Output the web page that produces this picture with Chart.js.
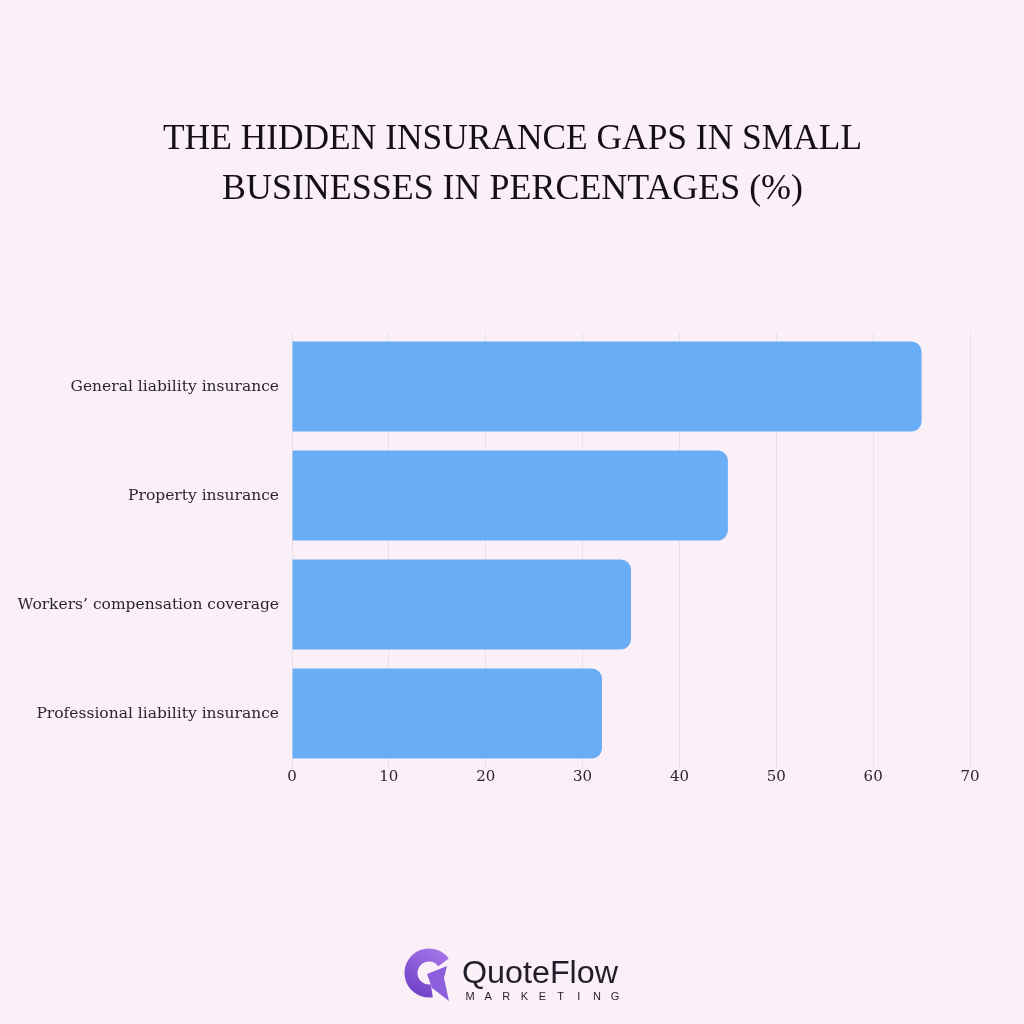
<!DOCTYPE html>
<html><head><meta charset="utf-8">
<script src="https://cdn.jsdelivr.net/npm/chart.js@4"></script>
<style>html,body{margin:0;padding:0;background:#fcf0f8;}#wrap{width:1024px;height:1024px;position:relative;}</style>
</head><body><div id="wrap"><canvas id="c" width="1024" height="1024"></canvas></div>
<script>
const categories = ["General liability insurance","Property insurance","Workers\u2019 compensation coverage","Professional liability insurance"];
const values = [65, 45, 35, 32];
const xTicks = [0,10,20,30,40,50,60,70];
const titleLines = ["THE HIDDEN INSURANCE GAPS IN SMALL","BUSINESSES IN PERCENTAGES (%)"];

const bgPlugin = {
  id:'bg',
  beforeDraw(chart){const ctx=chart.ctx;ctx.save();ctx.fillStyle='#fcf0f8';ctx.fillRect(0,0,chart.width,chart.height);ctx.restore();}
};
const decor = {
  id:'decor',
  afterDraw(chart){
    const ctx=chart.ctx;ctx.save();
    ctx.fillStyle='#151015';ctx.textAlign='center';ctx.textBaseline='alphabetic';
    ctx.font='36px "Liberation Serif"';
    const widths=[699,581], ys=[149,199];
    titleLines.forEach((t,i)=>{
      const w=ctx.measureText(t).width; const s=widths[i]/w;
      ctx.save();ctx.translate(512.5,ys[i]);ctx.scale(s,1);ctx.fillText(t,0,0);ctx.restore();
    });
    // logo icon
    const g=ctx.createLinearGradient(440,948,410,998);
    g.addColorStop(0,'#a777ea');g.addColorStop(1,'#6a3cc4');
    ctx.strokeStyle=g;ctx.lineWidth=13;ctx.lineCap='butt';
    ctx.beginPath();ctx.arc(429,973,18,0.45*Math.PI,1.8*Math.PI,false);ctx.stroke();
    ctx.fillStyle='#8e5fdc';
    ctx.beginPath();ctx.moveTo(427,974);ctx.lineTo(447,966);ctx.lineTo(444,978);ctx.lineTo(449,1001);ctx.lineTo(432,988);ctx.closePath();ctx.fill();
    // logo text
    ctx.fillStyle='#221d2a';ctx.textAlign='left';
    ctx.font='31px "Liberation Sans"';
    const qt='QuoteFlow';const qw=ctx.measureText(qt).width;
    ctx.save();ctx.translate(462,983);ctx.scale(156/qw,1);ctx.fillText(qt,0,0);ctx.restore();
    ctx.font='11px "Liberation Sans"';
    const m='MARKETING';const step=(615-470)/(m.length-1);
    ctx.textAlign='center';
    for(let i=0;i<m.length;i++){ctx.fillText(m[i],470+i*step,1000);}
    ctx.restore();
  }
};

new Chart(document.getElementById('c'),{
  type:'bar',
  data:{labels:categories,datasets:[{data:values,backgroundColor:'#68adf6',borderRadius:10,borderSkipped:'start',barPercentage:0.826,categoryPercentage:1}]},
  options:{
    indexAxis:'y',responsive:false,animation:false,
    layout:{padding:{top:332,right:54,bottom:230,left:0}},
    plugins:{legend:{display:false},tooltip:{enabled:false},title:{display:false}},
    scales:{
      x:{min:0,max:70,afterBuildTicks(s){s.ticks=xTicks.map(v=>({value:v}));},
        grid:{color:'#e9e0e8',drawTicks:false,lineWidth:1},border:{display:false},
        ticks:{color:'#2a2530',font:{family:'"DejaVu Serif"',size:15},padding:0},
        afterFit(s){s.height=26;}},
      y:{grid:{display:false,drawTicks:false},border:{display:true,color:'#e9e0e8'},
        ticks:{color:'#2a2530',font:{family:'"DejaVu Serif"',size:15.5},padding:13},
        afterFit(s){s.width=292;}}
    }
  },
  plugins:[bgPlugin,decor]
});
</script></body></html>
